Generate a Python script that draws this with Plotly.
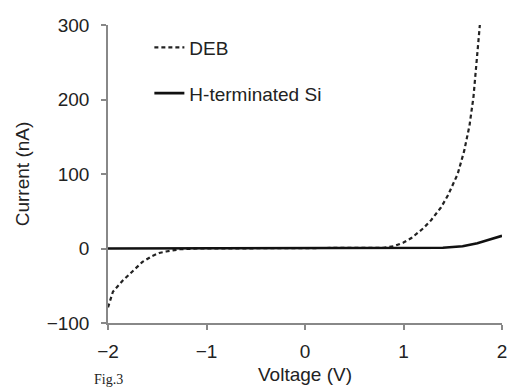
import plotly.graph_objects as go

# DEB series
deb_v = [-2.0, -1.95, -1.85, -1.75, -1.65, -1.55, -1.48, -1.41, -1.34, -1.27, -1.1, -0.5, 0.0, 0.5, 0.8, 0.9, 1.0, 1.08, 1.2, 1.28, 1.38, 1.45, 1.55, 1.616, 1.67, 1.71, 1.74, 1.775]
deb_i = [-79, -58, -43, -30, -18, -10, -6, -4, -2, -1, 0, 0, 0, 0, 1, 3, 8, 14, 27, 38, 55, 71, 100, 131, 165, 203, 245, 300]

# H-terminated Si series
hsi_v = [-2.0, -1.0, 0.0, 1.0, 1.2, 1.4, 1.6, 1.75, 1.85, 1.95, 2.0]
hsi_i = [0, 0, 0, 0, 0.3, 1, 3, 7, 11, 15, 17]

x_ticks = [-2, -1, 0, 1, 2]
y_ticks = [-100, 0, 100, 200, 300]

fig = go.Figure()
fig.add_trace(go.Scatter(x=deb_v, y=deb_i, mode="lines", name="DEB",
                         line=dict(color="#222", width=2.2, dash="4px,3px"),
                         legendgroup="a"))
fig.add_trace(go.Scatter(x=hsi_v, y=hsi_i, mode="lines", name="H-terminated Si",
                         line=dict(color="#111", width=2.6),
                         legendgroup="b"))

axis_font = dict(family="Liberation Sans, Arial, sans-serif", size=19, color="#222")
fig.update_layout(
    width=508, height=390,
    margin=dict(l=108, r=6, t=25, b=67, autoexpand=False),
    paper_bgcolor="white", plot_bgcolor="white",
    font=axis_font,
    showlegend=True,
    legend=dict(x=0.105, y=0.988, xanchor="left", yanchor="top",
                bgcolor="rgba(0,0,0,0)", font=dict(size=19, color="#222"),
                tracegroupgap=18, traceorder="grouped"),
    xaxis=dict(range=[-2, 2], tickvals=x_ticks, ticktext=["\u22122", "\u22121", "0", "1", "2"],
               showgrid=False, zeroline=False,
               showline=True, linecolor="#888", linewidth=1.5,
               ticks="outside", ticklen=5, tickcolor="#888", tickwidth=1.5,
               ticklabelstandoff=5, automargin=False, ticklabeloverflow="allow",
               title=dict(text="Voltage (V)", standoff=7, font=dict(size=19))),
    yaxis=dict(range=[-100, 300], tickvals=y_ticks, showgrid=False, zeroline=False,
               showline=True, linecolor="#888", linewidth=1.5,
               ticks="outside", ticklen=5, tickcolor="#888", tickwidth=1.5,
               ticklabelstandoff=8, automargin=False,
               title=dict(text="Current (nA)", standoff=12, font=dict(size=19))),
)
fig.add_annotation(text="Fig.3", xref="paper", yref="paper", x=-0.04, y=-0.158,
                   xanchor="left", yanchor="top", showarrow=False,
                   font=dict(family="Liberation Serif, Times New Roman, serif", size=14, color="#222"))
fig.write_html("out.html", config={"displayModeBar": False},
               post_script="document.body.style.margin='0px';")
